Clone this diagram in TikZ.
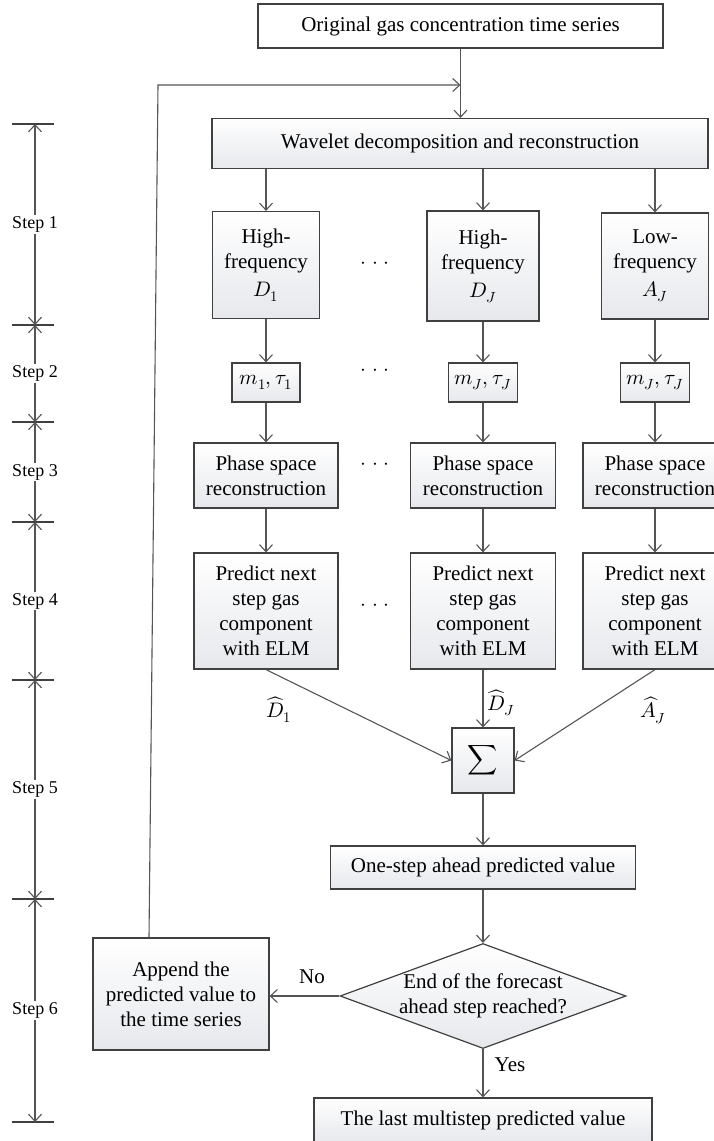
\documentclass[tikz,border=0pt]{standalone}
\usepackage{amsmath}
\usepackage{fontspec}
\usepackage{unicode-math}
\setmainfont{Liberation Serif}
\setmathfont{Latin Modern Math}
\usetikzlibrary{arrows.meta,shapes.geometric,calc}
\definecolor{bord}{RGB}{64,64,64}
\definecolor{linec}{RGB}{85,85,85}
\definecolor{shbot}{RGB}{230,232,236}
\newcommand{\mydots}{$\mathord{\cdot}\mkern5mu\mathord{\cdot}\mkern5mu\mathord{\cdot}$}
\begin{document}
\begin{tikzpicture}[x=1pt,y=-1pt,
  every node/.style={font=\fontsize{21}{25}\selectfont, text=black},
  plainbox/.style={draw=bord, line width=1.2pt, fill=white, align=center, inner sep=0pt},
  box/.style={draw=bord, line width=1.2pt, top color=white, bottom color=shbot, align=center, inner sep=0pt},
  dia/.style={shape=diamond, draw=bord, line width=1.2pt, top color=white, bottom color=shbot, inner sep=0pt, minimum width=286pt, minimum height=105pt},
  arr/.style={draw=linec, line width=1.1pt, -{Straight Barb[length=7pt,width=13pt]}},
  rul/.style={draw=linec, line width=1.1pt, {Straight Barb[length=7pt,width=13pt]}-{Straight Barb[length=7pt,width=13pt]}},
  tickst/.style={draw=bord, line width=1.8pt},
  stl/.style={fill=white, inner sep=1.5pt, font=\fontsize{18}{21}\selectfont},
  lbl/.style={inner sep=0pt}]
\useasboundingbox (0,0) rectangle (714,1141);
\clip (0,0) rectangle (714,1141);

% ---------- step ruler ----------
\coordinate (s0) at (35,124);
\coordinate (s1) at (35,325);
\coordinate (s2) at (35,422);
\coordinate (s3) at (35,522);
\coordinate (s4) at (35,680);
\coordinate (s5) at (35,899);
\coordinate (s6) at (35,1122);
\foreach \n in {0,...,6} { \draw[tickst] ($(s\n)+(-23,0)$) -- ($(s\n)+(19,0)$); }
\draw[rul] (s0) -- node[stl] (st1) {Step 1} (s1);
\draw[rul] (s1) -- node[stl] (st2) {Step 2} (s2);
\draw[rul] (s2) -- node[stl] (st3) {Step 3} (s3);
\draw[rul] (s3) -- node[stl] (st4) {Step 4} (s4);
\draw[rul] (s4) -- node[stl] (st5) {Step 5} (s5);
\draw[rul] (s5) -- node[stl] (st6) {Step 6} (s6);

% ---------- nodes ----------
\def\ca{266}\def\cb{483}\def\cc{655}
\node[plainbox, minimum width=405pt, minimum height=44pt] (orig) at (460.5,26) {Original gas concentration time series};
\node[box, minimum width=496pt, minimum height=50pt] (wave) at (460,143.5) {Wavelet decomposition and reconstruction};

\node[box, minimum width=107pt, minimum height=107pt] (h1) at (\ca,265) {High-\\frequency\\[3pt]$D_1$};
\node[box, minimum width=112pt, minimum height=110pt] (h2) at (\cb,266) {High-\\frequency\\[3pt]$D_J$};
\node[box, minimum width=107pt, minimum height=106pt] (h3) at (\cc,266) {Low-\\frequency\\[3pt]$A_J$};

\node[box, minimum width=68pt, minimum height=39pt] (m1) at (\ca,382.5) {$m_1, \tau_1$};
\node[box, minimum width=69pt, minimum height=39pt] (m2) at (\cb,382.5) {$m_J, \tau_J$};
\node[box, minimum width=69pt, minimum height=39pt] (m3) at (\cc,382.5) {$m_J, \tau_J$};

\node[box, minimum width=144pt, minimum height=65pt] (p1) at (\ca,475.5) {Phase space\\reconstruction};
\node[box, minimum width=145pt, minimum height=65pt] (p2) at (\cb,475.5) {Phase space\\reconstruction};
\node[box, minimum width=144pt, minimum height=65pt] (p3) at (\cc,475.5) {Phase space\\reconstruction};

\node[box, minimum width=144pt, minimum height=116pt] (q1) at (\ca,611) {Predict next\\step gas\\component\\with ELM};
\node[box, minimum width=145pt, minimum height=116pt] (q2) at (\cb,611) {Predict next\\step gas\\component\\with ELM};
\node[box, minimum width=144pt, minimum height=116pt] (q3) at (\cc,611) {Predict next\\step gas\\component\\with ELM};

\node (dt1) at (375,265) {\mydots};
\node (dt2) at (375,372) {\mydots};
\node (dt3) at (375,466) {\mydots};
\node (dt4) at (375,607) {\mydots};

\node[box, minimum width=62pt, minimum height=65pt] (sig) at (\cb,760.5) {$\displaystyle\sum$};
\node[box, minimum width=305pt, minimum height=43pt] (one) at (\cb,867.5) {One-step ahead predicted value};
\node[dia] (dec) at (\cb,996) {};
\node[lbl, align=center] (dect) at (dec.center) {End of the forecast\\ahead step reached?};
\node[box, minimum width=176pt, minimum height=112pt] (app) at (181,994) {Append the\\predicted value to\\the time series};
\node[box, minimum width=338pt, minimum height=44pt] (last) at (\cb,1120) {The last multistep predicted value};

% ---------- connectors ----------
\coordinate (join) at (orig.south |- 0,85);
\coordinate (fbtop) at (158,85);
\draw[arr] (orig.south) -- (orig.south |- wave.north);
\draw[arr] (app.north -| 149,0) -- (fbtop) -- (join);

\foreach \c in {1,2,3} {
  \draw[arr] (wave.south -| h\c.north) -- (h\c.north);
  \draw[arr] (h\c.south) -- (h\c.south |- m\c.north);
  \draw[arr] (m\c.south) -- (m\c.south |- p\c.north);
  \draw[arr] (p\c.south) -- (p\c.south |- q\c.north);
}
\draw[arr] (q1.south) -- (sig.west);
\draw[arr] (q2.south) -- (q2.south |- sig.north);
\draw[arr] (q3.south) -- (sig.east);
\draw[arr] (sig.south) -- (sig.south |- one.north);
\draw[arr] (one.south) -- (one.south |- dec.north);
\draw[arr] (dec.west) -- (dec.west -| app.east);
\draw[arr] (dec.south) -- (dec.south |- last.north);

\node (lD1) at (279,710) {$\widehat{D}_1$};
\node (lDJ) at (501,703) {$\widehat{D}_J$};
\node (lAJ) at (653,710) {$\widehat{A}_J$};
\node (lno) at (312,977) {No};
\node (lyes) at (510,1065) {Yes};
\end{tikzpicture}
\end{document}
